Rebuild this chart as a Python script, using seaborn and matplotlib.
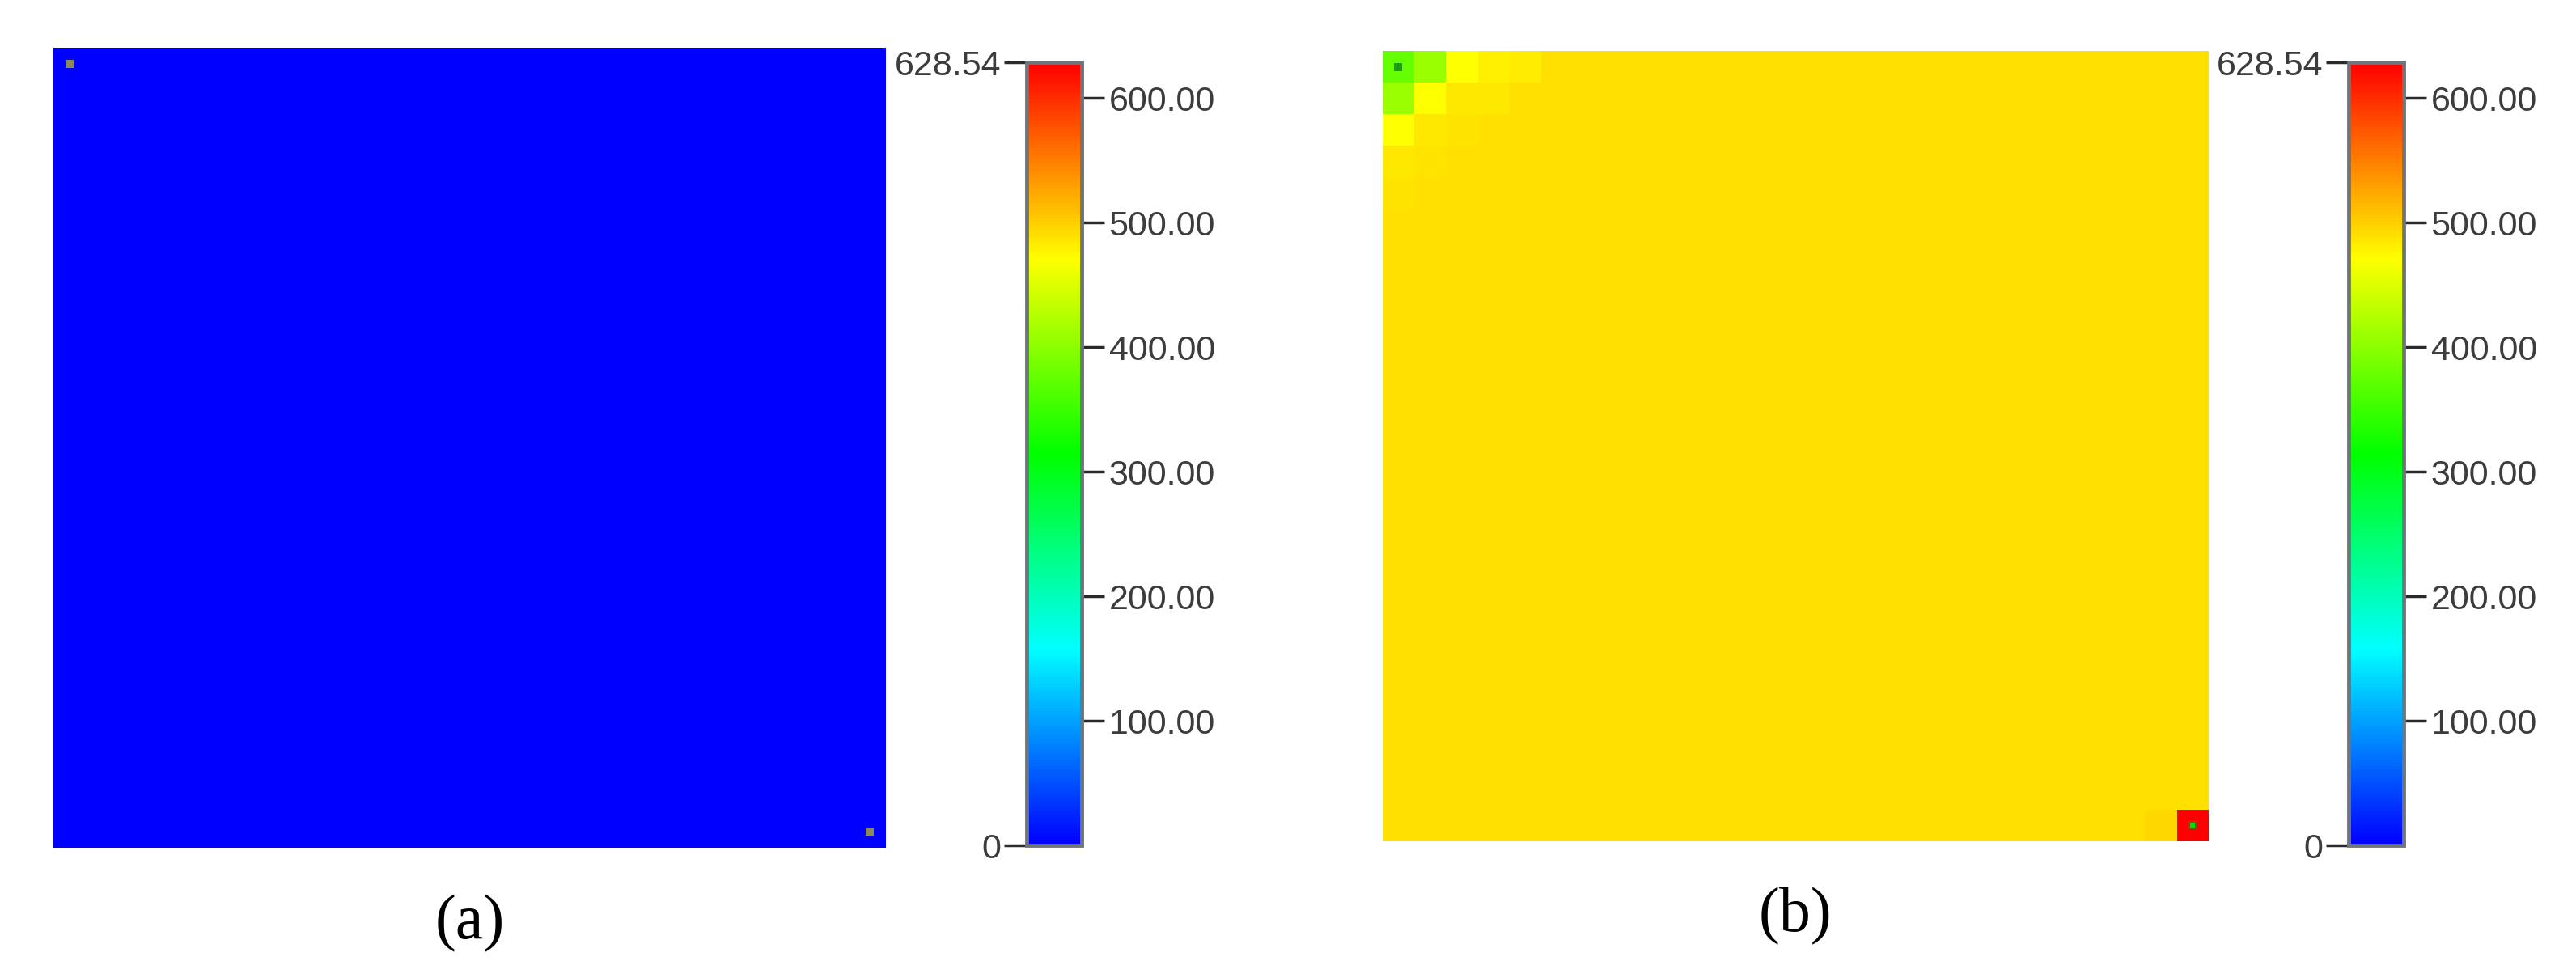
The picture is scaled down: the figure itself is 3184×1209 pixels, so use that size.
import numpy as np
import matplotlib
matplotlib.use("Agg")
import matplotlib.pyplot as plt
import seaborn as sns
from matplotlib.colors import LinearSegmentedColormap

# ---------------------------------------------------
# Data
# ---------------------------------------------------
n_rows, n_cols = 25, 26
vmin, vmax = 0.0, 628.54

# panel (a): uniform field
a_base = 0.0

# panel (b): mostly uniform, with a gradient in the top-left corner
b_base = 490.0
b_top_left = [
    [376, 410, 471, 480, 482],
    [410, 471, 484, 485, 489],
    [471, 486, 487, 489, 490],
    [486, 487, 489, 490, 490],
    [487, 489, 490, 490, 490],
]
b_bottom_right = 628.54
b_left_of_corner = 494.0

cbar_ticks = [100, 200, 300, 400, 500, 600]
panel_labels = ["(a)", "(b)"]

# ---------------------------------------------------
# Build grids
# ---------------------------------------------------
grid_a = np.full((n_rows, n_cols), a_base)

grid_b = np.full((n_rows, n_cols), b_base)
tl = np.array(b_top_left, dtype=float)
grid_b[:tl.shape[0], :tl.shape[1]] = tl
grid_b[-1, -2] = b_left_of_corner
grid_b[-1, -1] = b_bottom_right

cmap = LinearSegmentedColormap.from_list(
    "rainbow5", ["#0000ff", "#00ffff", "#00ff00", "#ffff00", "#ff0000"]
)

# ---------------------------------------------------
# Figure
# ---------------------------------------------------
sns.set_style("white")
plt.rcParams["font.family"] = ["Liberation Sans", "DejaVu Sans"]

fig = plt.figure(figsize=(31.84, 12.09), dpi=100)

ax_a = fig.add_axes([0.0207, 0.1332, 0.3232, 0.8180])
cax_a = fig.add_axes([0.3985, 0.1355, 0.0215, 0.8005])
ax_b = fig.add_axes([0.5367, 0.1398, 0.3207, 0.8081])
cax_b = fig.add_axes([0.9117, 0.1355, 0.0215, 0.8005])

label_color = "#3c3c3c"

for ax, cax, grid, lab in [(ax_a, cax_a, grid_a, panel_labels[0]),
                           (ax_b, cax_b, grid_b, panel_labels[1])]:
    sns.heatmap(grid, ax=ax, cmap=cmap, vmin=vmin, vmax=vmax,
                xticklabels=False, yticklabels=False,
                cbar_ax=cax, cbar_kws={"ticks": cbar_ticks, "format": "%.2f"})

    # colorbar styling
    cbar = ax.collections[0].colorbar
    cbar.outline.set_edgecolor("#6e767c")
    cbar.outline.set_linewidth(3.5)
    cax.yaxis.set_ticks_position("right")
    cax.tick_params(axis="y", length=20, width=2.5, color="#2a2a2a",
                    labelsize=31, labelcolor=label_color, pad=4)

    # min / max labels on the left side
    sec = cax.secondary_yaxis("left")
    sec.set_yticks([vmin, vmax])
    sec.set_yticklabels(["0", "628.54"])
    sec.spines["left"].set_visible(False)
    sec.tick_params(axis="y", length=20, width=2.5, color="#2a2a2a",
                    labelsize=31, labelcolor=label_color, pad=3)

    ax.set_xlabel("")
    ax.set_ylabel("")
    ax.text(0.5, -0.095, lab, transform=ax.transAxes, ha="center",
            va="center", fontsize=56, family=["Liberation Serif", "DejaVu Serif"],
            color="black")

# small marker points at the corner cells
ax_a.scatter([0.5, n_cols - 0.5], [0.5, n_rows - 0.5], marker="s", s=50,
             color="#8c8a5a", linewidths=0, zorder=3)
ax_b.scatter([0.5], [0.5], marker="s", s=50, color="#1e9a12",
             linewidths=0, zorder=3)
ax_b.scatter([n_cols - 0.5], [n_rows - 0.5], marker="s", s=40,
             color="#00e000", edgecolors="#6b5a12", linewidths=1.5, zorder=3)

fig.savefig("out.png", dpi=100)
